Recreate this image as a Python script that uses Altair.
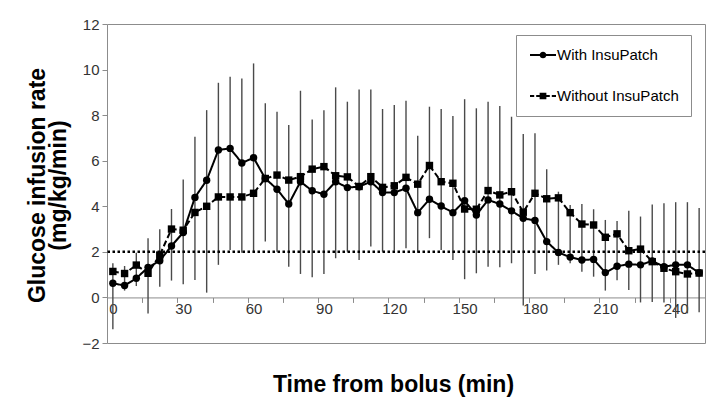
import altair as alt
import pandas as pd

# ---------------- data ----------------
time_min = list(range(0, 255, 5))

with_patch = [0.62, 0.52, 0.84, 1.32, 1.61, 2.26, 2.85, 4.39, 5.14, 6.47,
              6.54, 5.90, 6.13, 5.22, 4.75, 4.10, 5.08, 4.68, 4.53, 5.08,
              4.82, 4.86, 5.08, 4.60, 4.60, 4.79, 3.72, 4.31, 4.01, 3.72,
              4.24, 3.62, 4.28, 4.10, 3.80, 3.47, 3.38, 2.45, 1.97, 1.77,
              1.64, 1.67, 1.09, 1.37, 1.46, 1.43, 1.60, 1.35, 1.43, 1.43,
              1.08]

without_patch = [1.14, 1.05, 1.42, 1.06, 1.86, 3.00, 2.95, 3.73, 4.00, 4.41,
                 4.41, 4.41, 4.57, 5.22, 5.37, 5.15, 5.30, 5.63, 5.74, 5.34,
                 5.29, 4.87, 5.30, 4.83, 4.90, 5.27, 4.97, 5.79, 5.08, 5.01,
                 3.88, 3.87, 4.69, 4.50, 4.64, 3.74, 4.57, 4.33, 4.37, 3.72,
                 3.22, 3.18, 2.64, 2.79, 2.05, 2.12, 1.57, 1.28, 1.13, 1.03,
                 1.07]

err_low = [-1.40, 0.30, 0.50, -0.70, 0.47, 0.74, 0.58, 0.77, 0.21, 1.43,
           2.08, 1.96, 1.96, 2.45, 2.01, 1.35, 1.03, 0.89, 1.03, 1.72,
           2.01, 1.64, 2.23, 2.01, 2.05, 2.16, 1.96, 2.60, 2.08, 1.64,
           0.80, 1.06, 1.35, 1.32, 1.50, -0.35, 1.03, 1.18, 1.43, 1.50,
           1.13, 0.91, 0.30, 0.75, 0.33, -0.22, -0.20, -0.22, -0.90, -0.70,
           -0.65]

err_high = [1.50, 1.38, 1.96, 2.60, 2.99, 3.88, 5.18, 7.05, 8.22, 9.42,
            9.68, 9.61, 10.27, 8.52, 8.15, 7.57, 9.07, 7.81, 8.22, 9.22,
            8.59, 9.13, 9.13, 8.27, 8.44, 8.63, 7.10, 8.37, 8.27, 7.96,
            8.70, 8.30, 8.59, 8.40, 7.93, 7.17, 7.20, 5.62, 4.64, 4.06,
            4.10, 3.87, 3.40, 3.35, 3.80, 3.55, 4.08, 4.13, 4.18, 4.18,
            3.93]

series_names = ["With InsuPatch", "Without InsuPatch"]
threshold = 2

x_domain = [-2.5, 252.5]
y_domain = [-2, 12]
x_label_values = list(range(0, 241, 30))
x_tick_values = [12.5 + 15 * k for k in range(16)]
y_tick_values = list(range(-2, 13, 2))

# ---------------- tables ----------------
df = pd.DataFrame({
    "time": time_min * 2,
    "series": [series_names[0]] * len(time_min) + [series_names[1]] * len(time_min),
    "value": with_patch + without_patch,
})
err_df = pd.DataFrame({"time": time_min, "low": err_low, "high": err_high})
thr_df = pd.DataFrame({"thr": [threshold]})

W, H = 598, 319
FONT = "Liberation Sans"
x_offset = -H * (0 - y_domain[0]) / (y_domain[1] - y_domain[0])

x_scale = alt.Scale(domain=x_domain, nice=False, zero=False)
y_scale = alt.Scale(domain=y_domain, nice=False, zero=False)

y_axis = alt.Axis(
    values=y_tick_values, grid=False, domain=False,
    tickColor="#8c8c8c", tickSize=5, labelFontSize=15, labelColor="#333333",
    labelPadding=3, labelFont=FONT,
    title=["Glucose infusion rate", "(mg/kg/min)"],
    titleFont=FONT, titleFontSize=23, titleFontWeight="bold", titleColor="black",
    titleAngle=270, titleBaseline="bottom", titleAlign="center",
    titleX=-58, titleY=161, titleLineHeight=21,
)

tick_axis = alt.Axis(
    orient="bottom", values=x_tick_values, labels=False, title=None,
    tickSize=5, tickColor="#8c8c8c", domain=True, domainColor="#8c8c8c",
    grid=False, offset=x_offset,
)
label_axis = alt.Axis(
    orient="bottom", values=x_label_values, ticks=False, domain=False, grid=False,
    labelFontSize=15, labelColor="#333333", labelFont=FONT, labelPadding=4,
    offset=x_offset,
    title="Time from bolus (min)", titleFont=FONT, titleFontSize=23,
    titleFontWeight="bold", titleColor="black",
    titleX=286, titleY=94, titleBaseline="alphabetic",
)

err_layer = alt.Chart(err_df).mark_rule(color="#4a4a4a", strokeWidth=1.4).encode(
    x=alt.X("time:Q", scale=x_scale, axis=tick_axis),
    y=alt.Y("low:Q", scale=y_scale, axis=y_axis),
    y2="high:Q",
)

thr_layer = alt.Chart(thr_df).mark_rule(
    color="black", strokeWidth=2.5, strokeDash=[2.5, 2.5]
).encode(y=alt.Y("thr:Q", scale=y_scale, axis=y_axis))

dash_scale = alt.Scale(domain=series_names, range=[[1, 0], [6, 3]])

line_layer = alt.Chart(df).mark_line(color="black", strokeWidth=2).encode(
    x=alt.X("time:Q", scale=x_scale, axis=label_axis),
    y=alt.Y("value:Q", scale=y_scale, axis=y_axis),
    strokeDash=alt.StrokeDash("series:N", scale=dash_scale, legend=None),
    detail="series:N",
)

point_layer = alt.Chart(df).mark_point(filled=True, color="black", opacity=1, size=55).encode(
    x=alt.X("time:Q", scale=x_scale, axis=None),
    y=alt.Y("value:Q", scale=y_scale, axis=y_axis),
    shape=alt.Shape("series:N", scale=alt.Scale(domain=series_names, range=["circle", "square"]),
                    legend=None),
)

# legend glyphs: line + marker, drawn as filled shapes (unit = 8 px)
circle_path = ("M-1.625,-0.125H1.625V0.125H-1.625Z"
               "M-0.42,0A0.42,0.42,0,1,1,0.42,0A0.42,0.42,0,1,1,-0.42,0Z")
square_path = ("M-1.625,-0.125H-1.1V0.125H-1.625Z"
               "M-0.85,-0.125H-0.42V0.125H-0.85Z"
               "M-0.42,-0.42H0.42V0.42H-0.42Z"
               "M0.42,-0.125H0.85V0.125H0.42Z"
               "M1.1,-0.125H1.625V0.125H1.1Z")

legend_def = alt.Legend(
    title=None, orient="none", legendX=409, legendY=11, direction="vertical",
    padding=12, rowPadding=25, symbolSize=256, symbolOffset=7,
    symbolStrokeWidth=0, symbolFillColor="black",
    labelFont=FONT, labelFontSize=15, labelColor="black", labelOffset=6,
    fillColor="white", strokeColor="#8c8c8c",
)

legend_layer = alt.Chart(df).mark_point(
    filled=True, color="black", opacity=0
).encode(
    x=alt.X("time:Q", scale=x_scale, axis=None),
    y=alt.Y("value:Q", scale=y_scale, axis=y_axis),
    shape=alt.Shape("series:N", scale=alt.Scale(domain=series_names,
                                                range=[circle_path, square_path]),
                    legend=legend_def),
)

chart = alt.layer(err_layer, thr_layer, line_layer, point_layer, legend_layer).resolve_scale(
    shape="independent", strokeDash="independent"
).resolve_axis(x="independent").properties(
    width=W, height=H,
    autosize=alt.AutoSizeParams(type="none"),
    padding={"left": 99, "top": 16, "right": 11, "bottom": 54},
    background="white",
).configure_view(stroke="#8c8c8c", strokeWidth=1)

chart.save("out.html", embed_options={"renderer": "svg", "actions": False})
